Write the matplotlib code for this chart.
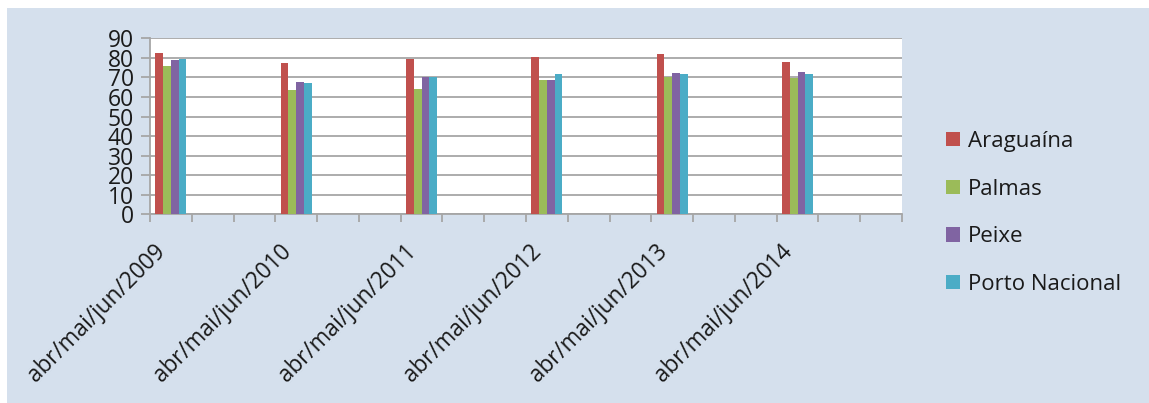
import numpy as np
import matplotlib
matplotlib.use("Agg")
import matplotlib.pyplot as plt
from matplotlib.patches import Rectangle

plt.rcParams['font.family'] = ['Open Sans', 'DejaVu Sans']

# Quarterly periods (one labelled category every third slot on the axis)
periods = ["abr/mai/jun/2009", "abr/mai/jun/2010", "abr/mai/jun/2011",
           "abr/mai/jun/2012", "abr/mai/jun/2013", "abr/mai/jun/2014"]
n_slots = 18
slot_step = 3

series_names = ["Araguaína", "Palmas", "Peixe", "Porto Nacional"]
araguaina = [82.5, 77.3, 79.3, 80.5, 82.0, 78.0]
palmas = [75.8, 63.5, 64.2, 68.8, 70.3, 69.5]
peixe = [78.7, 67.6, 70.3, 68.8, 72.1, 72.7]
porto_nacional = [79.3, 67.0, 70.3, 72.0, 71.5, 71.5]
colors = ["#c0504d", "#9bbb59", "#8064a2", "#4bacc6"]

y_ticks = list(range(0, 91, 10))

W, H = 1149, 403
fig = plt.figure(figsize=(W / 100, H / 100), dpi=100)
fig.patch.set_facecolor("white")
bg_color = "#d5e0ed"
fig.add_artist(Rectangle((7 / W, 0), 1 - 7 / W, 1 - 8 / H,
                         transform=fig.transFigure, facecolor=bg_color,
                         edgecolor="none", zorder=0))

ax = fig.add_axes([150 / W, 1 - 214.3 / H, (902 - 150) / W, (214.3 - 38.3) / H])
ax.set_facecolor("white")

data = [araguaina, palmas, peixe, porto_nacional]
centers = np.arange(len(periods)) * slot_step + 0.5
group_width = 0.74
bar_w = group_width / len(data)
for i, (vals, name, col) in enumerate(zip(data, series_names, colors)):
    offs = -group_width / 2 + bar_w * (i + 0.5)
    ax.bar(centers + offs, vals, width=bar_w, color=col, label=name,
           edgecolor="none", zorder=3)

ax.set_xlim(0, n_slots)
ax.set_ylim(0, 90)

grid_color = "#a6a6a6"
text_color = "#1a1a1a"
ax.set_yticks(y_ticks)
ax.yaxis.grid(True, color=grid_color, linewidth=1.3, zorder=1)
ax.tick_params(axis="y", length=6.5, width=1.3, color=grid_color, pad=5.0,
               labelsize=16.5, labelcolor=text_color)

# category labels at group centres, tick marks on slot boundaries
ax.set_xticks(centers)
ax.set_xticklabels(periods, rotation=45, ha="right", va="top",
                   fontsize=16.3, color=text_color)
ax.tick_params(axis="x", which="major", length=0, pad=18)
ax.set_xticks(np.arange(0, n_slots + 1), minor=True)
ax.tick_params(axis="x", which="minor", length=6, width=1.3, color=grid_color)

for side in ["top", "right"]:
    ax.spines[side].set_visible(False)
for side in ["left", "bottom"]:
    ax.spines[side].set_color(grid_color)
    ax.spines[side].set_linewidth(1.3)
ax.set_axisbelow(True)

handles, labels = ax.get_legend_handles_labels()
leg = fig.legend(handles, labels, loc="center left",
                 bbox_to_anchor=(926 / W, 1 - 213 / H),
                 frameon=False, fontsize=16, handlelength=0.62,
                 handleheight=0.62, handletextpad=0.35, labelspacing=1.2)
for t in leg.get_texts():
    t.set_color(text_color)

fig.savefig("out.png", dpi=100, facecolor=fig.get_facecolor())
